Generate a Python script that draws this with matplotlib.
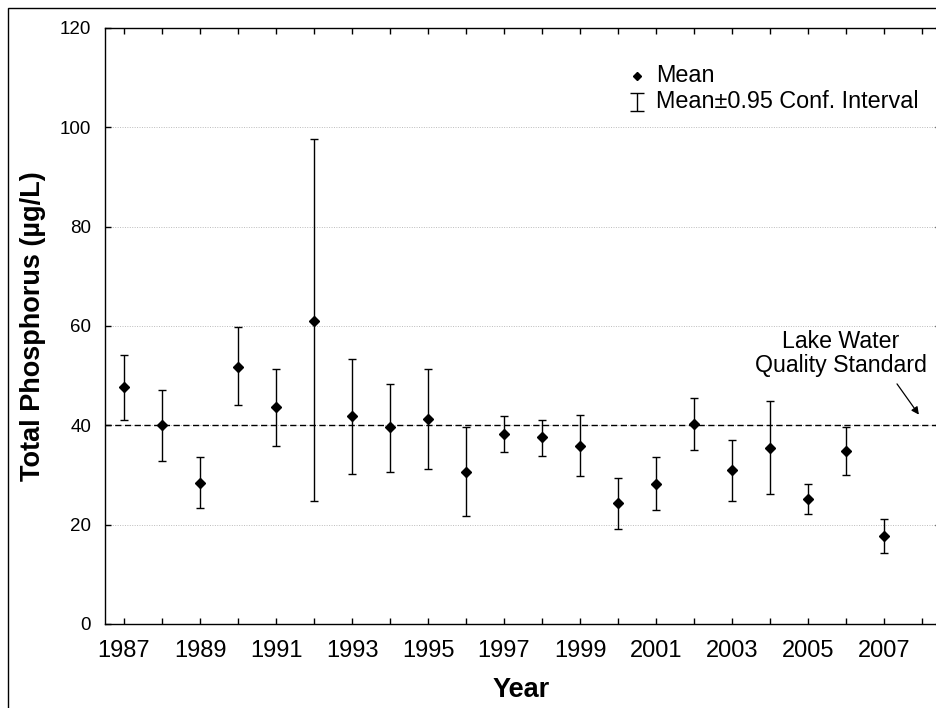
import matplotlib
matplotlib.use("Agg")
import matplotlib.pyplot as plt
from matplotlib.patches import Rectangle
import numpy as np

years = [1987, 1988, 1989, 1990, 1991, 1992, 1993, 1994, 1995, 1996, 1997,
         1998, 1999, 2000, 2001, 2002, 2003, 2004, 2005, 2006, 2007]
mean = [47.7, 40.0, 28.4, 51.7, 43.7, 61.1, 41.8, 39.7, 41.3, 30.6, 38.3,
        37.6, 35.8, 24.3, 28.1, 40.2, 31.0, 35.5, 25.2, 34.9, 17.8]
upper = [54.2, 47.1, 33.6, 59.7, 51.3, 97.6, 53.3, 48.4, 51.4, 39.6, 41.8,
         41.1, 42.0, 29.4, 33.6, 45.5, 37.1, 45.0, 28.2, 39.6, 21.2]
lower = [41.0, 32.9, 23.3, 44.1, 35.9, 24.8, 30.2, 30.7, 31.3, 21.8, 34.7,
         33.8, 29.7, 19.1, 22.9, 35.0, 24.8, 26.2, 22.2, 29.9, 14.2]
standard = 40
yticks = [0, 20, 40, 60, 80, 100, 120]
legend_labels = ['Mean', 'Mean±0.95 Conf. Interval']
standard_label = 'Lake Water\nQuality Standard'

plt.rcParams['font.family'] = ['Liberation Sans', 'DejaVu Sans']

W, H = 937, 708
fig = plt.figure(figsize=(W / 100, H / 100), dpi=100)
# axes in pixel coordinates
left, right, top, bottom = 105, 941, 28, 624
ax = fig.add_axes([left / W, 1 - bottom / H, (right - left) / W, (bottom - top) / H])

y = np.array(mean)
yerr = [y - np.array(lower), np.array(upper) - y]
ax.errorbar(years, mean, yerr=yerr, fmt='none', ecolor='black', elinewidth=1.0,
            capsize=3.0, capthick=1.0, zorder=3)
ax.plot(years, mean, linestyle='none', marker='D', markersize=5.2, color='black', zorder=4)

ax.axhline(standard, color='black', linestyle=(0, (4.5, 2.5)), linewidth=1.0, zorder=2)

ax.set_xlim(1986.5, 2008.5)
ax.set_ylim(0, 120)
ax.set_xticks(range(1987, 2009))
ax.set_xticklabels([str(v) if (v - 1987) % 2 == 0 and v <= 2007 else '' for v in range(1987, 2009)])
ax.set_yticks(yticks)
ax.set_yticklabels([str(v) for v in yticks])
ax.grid(axis='y', linestyle=(0, (1, 1.5)), color='#bcbcbc', linewidth=0.7, zorder=1)
ax.tick_params(axis='x', direction='in', length=4, width=1, top=True, labelsize=17, pad=11.5)
ax.tick_params(axis='y', direction='in', length=4, width=1, right=True, labelsize=13.5, pad=10)
for s in ax.spines.values():
    s.set_linewidth(1.0)

fig.text(33 / W, 1 - 326 / H, 'Total Phosphorus (µg/L)', rotation=90, ha='center', va='center',
         fontsize=19.5, fontweight='bold')
fig.text(521 / W, 1 - 690 / H, 'Year', ha='center', va='center', fontsize=19.5, fontweight='bold')

# legend (drawn manually in axes-fraction coordinates)
def ax_frac(px, py):
    return (px - left) / (right - left), (bottom - py) / (bottom - top)

mx, my = ax_frac(637, 76)
ax.plot([mx], [my], transform=ax.transAxes, linestyle='none', marker='D', markersize=4.2,
        color='black', clip_on=False)
ex, ey = ax_frac(637, 102)
_, ehalf = ax_frac(0, bottom - 9)
ax.errorbar([ex], [ey], yerr=[[ehalf], [ehalf]], transform=ax.transAxes, fmt='none',
            ecolor='black', elinewidth=1.0, capsize=5.0, capthick=1.0, clip_on=False)
tx, _ = ax_frac(656, 0)
ax.text(tx, my, legend_labels[0], transform=ax.transAxes, ha='left', va='center', fontsize=16.8)
ax.text(tx, ey, legend_labels[1], transform=ax.transAxes, ha='left', va='center', fontsize=16.8)

# standard annotation
ax.text(2005.87, 54.4, standard_label, ha='center', va='center', fontsize=16.7,
        linespacing=1.05)
ax.annotate('', xy=(2007.96, 41.7), xytext=(2007.3, 48.8),
            arrowprops=dict(arrowstyle='-|>', color='black', lw=0.9, mutation_scale=11))

# outer frame
fig.patches.append(Rectangle((8 / W, -0.1), 1.2, 1.1 - 8 / H, transform=fig.transFigure,
                             fill=False, edgecolor='black', linewidth=1.0))

fig.savefig('out.png', dpi=100)
